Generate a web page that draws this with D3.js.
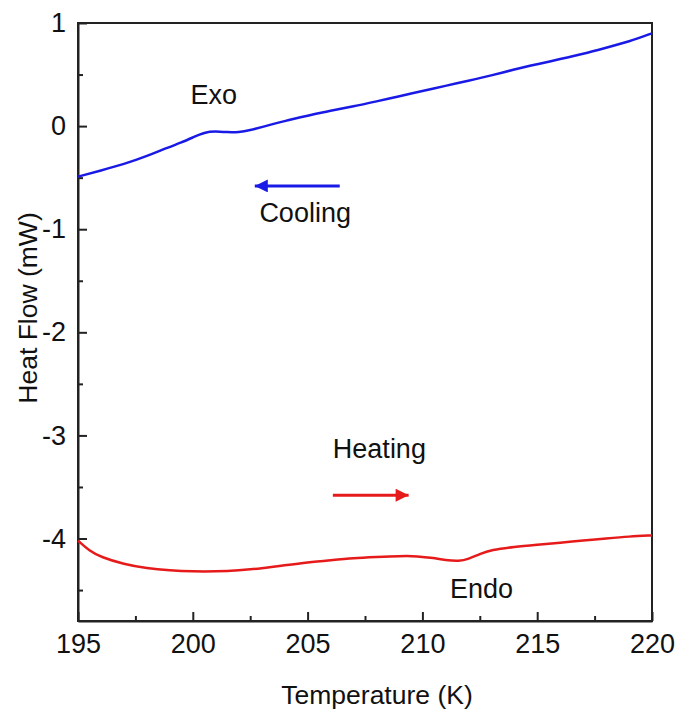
<!DOCTYPE html>
<html>
<head>
<meta charset="utf-8">
<script src="https://cdn.jsdelivr.net/npm/d3@7"></script>
<style>
  body { margin: 0; background: #fff; }
  text { font-family: "Liberation Sans", Arial, sans-serif; fill: #111; }
</style>
</head>
<body>
<div id="chart"></div>
<script>
// cooling run (blue)
const coolT = [195, 196, 197, 198, 199, 199.5, 200, 200.5, 201, 201.5, 202, 202.5, 203, 204, 205, 206, 207, 208, 209, 210, 211, 212, 213, 214, 215, 216, 217, 218, 219, 220];
const coolHF = [-0.49, -0.43, -0.37, -0.29, -0.20, -0.16, -0.11, -0.06, -0.05, -0.06, -0.06, -0.04, -0.01, 0.05, 0.10, 0.15, 0.19, 0.24, 0.29, 0.34, 0.39, 0.44, 0.49, 0.55, 0.60, 0.65, 0.70, 0.76, 0.82, 0.90];

// heating run (red)
const heatT = [195, 195.5, 196, 197, 198, 199, 200, 201, 202, 203, 204, 205, 206, 207, 208, 209, 209.8, 210.5, 211, 211.6, 212, 212.5, 213, 214, 215, 216, 217, 218, 219, 220];
const heatHF = [-4.02, -4.12, -4.18, -4.25, -4.29, -4.31, -4.32, -4.32, -4.31, -4.29, -4.26, -4.23, -4.21, -4.19, -4.18, -4.17, -4.17, -4.19, -4.21, -4.22, -4.20, -4.15, -4.11, -4.08, -4.06, -4.04, -4.02, -4.00, -3.98, -3.97];

const xTicks = [195, 200, 205, 210, 215, 220];
const yTicks = [-4, -3, -2, -1, 0, 1];

const width = 679, height = 713;
const margin = {top: 23, right: 27, bottom: 92, left: 78};

const svg = d3.select('#chart').append('svg')
    .attr('width', width)
    .attr('height', height);

const x = d3.scaleLinear().domain([195, 220]).range([margin.left, width - margin.right]);
const y = d3.scaleLinear().domain([-4.8, 1]).range([height - margin.bottom, margin.top]);

const fontSize = 27;
const titleSize = 26.5;

// minor ticks (inward)
const xMinor = d3.range(195, 220.01, 2.5).filter(v => !xTicks.includes(v));
const yMinor = d3.range(-4.5, 1, 1);

const axisColor = '#222';

const gx = svg.append('g')
    .attr('transform', `translate(0,${height - margin.bottom})`)
    .call(d3.axisBottom(x).tickValues(xTicks).tickSizeInner(-9).tickSizeOuter(0).tickPadding(13));
gx.selectAll('text').style('font-size', fontSize + 'px');

svg.append('g')
    .attr('transform', `translate(0,${height - margin.bottom})`)
    .call(d3.axisBottom(x).tickValues(xMinor).tickSize(-5).tickFormat(''))
    .call(g => g.select('.domain').remove());

const gy = svg.append('g')
    .attr('transform', `translate(${margin.left},0)`)
    .call(d3.axisLeft(y).tickValues(yTicks).tickSizeInner(-9).tickSizeOuter(0).tickPadding(12)
        .tickFormat(d => d < 0 ? '-' + Math.abs(d) : d));
gy.selectAll('text').style('font-size', fontSize + 'px');

svg.append('g')
    .attr('transform', `translate(${margin.left},0)`)
    .call(d3.axisLeft(y).tickValues(yMinor).tickSize(-5).tickFormat(''))
    .call(g => g.select('.domain').remove());

svg.selectAll('.domain, .tick line')
    .attr('stroke', axisColor)
    .attr('stroke-width', 2);

// frame top/right
svg.append('rect')
    .attr('x', x(195))
    .attr('y', y(1))
    .attr('width', x(220) - x(195))
    .attr('height', y(-4.8) - y(1))
    .attr('fill', 'none')
    .attr('stroke', axisColor)
    .attr('stroke-width', 2);

const line = d3.line()
    .x(d => x(d[0]))
    .y(d => y(d[1]))
    .curve(d3.curveBasis);

svg.append('path')
    .datum(d3.zip(coolT, coolHF))
    .attr('d', line)
    .attr('fill', 'none')
    .attr('stroke', '#1a1ae6')
    .attr('stroke-width', 2.5);

svg.append('path')
    .datum(d3.zip(heatT, heatHF))
    .attr('d', line)
    .attr('fill', 'none')
    .attr('stroke', '#e61a1a')
    .attr('stroke-width', 2.5);

// arrows
const defs = svg.append('defs');
function marker(id, color) {
    defs.append('marker')
        .attr('id', id)
        .attr('viewBox', '0 0 10 10')
        .attr('refX', 10)
        .attr('refY', 5)
        .attr('markerUnits', 'userSpaceOnUse')
        .attr('markerWidth', 22)
        .attr('markerHeight', 13)
        .attr('orient', 'auto')
        .append('path')
        .attr('d', 'M0,0 L10,5 L0,10 z')
        .attr('fill', color);
}
marker('arrBlue', '#1a1ae6');
marker('arrRed', '#e61a1a');

svg.append('line')
    .attr('x1', x(206.4)).attr('y1', y(-0.58))
    .attr('x2', x(202.7)).attr('y2', y(-0.58))
    .attr('stroke', '#1a1ae6')
    .attr('stroke-width', 3)
    .attr('marker-end', 'url(#arrBlue)');

svg.append('line')
    .attr('x1', x(206.1)).attr('y1', y(-3.58))
    .attr('x2', x(209.4)).attr('y2', y(-3.58))
    .attr('stroke', '#e61a1a')
    .attr('stroke-width', 3)
    .attr('marker-end', 'url(#arrRed)');

// annotations
const notes = [
    {t: 'Exo', x: 199.9, y: 0.21},
    {t: 'Cooling', x: 202.9, y: -0.93},
    {t: 'Heating', x: 206.1, y: -3.22},
    {t: 'Endo', x: 211.2, y: -4.58}
];
svg.selectAll('text.note')
    .data(notes)
    .enter()
    .append('text')
    .attr('class', 'note')
    .attr('x', d => x(d.x))
    .attr('y', d => y(d.y))
    .style('font-size', fontSize + 'px')
    .text(d => d.t);

// axis titles
svg.append('text')
    .attr('x', (x(195) + x(220)) / 2 + 12)
    .attr('y', 704)
    .attr('text-anchor', 'middle')
    .style('font-size', titleSize + 'px')
    .text('Temperature (K)');

svg.append('text')
    .attr('transform', `translate(37,${(y(1) + y(-4.8)) / 2 - 14}) rotate(-90)`)
    .attr('text-anchor', 'middle')
    .style('font-size', titleSize + 'px')
    .text('Heat Flow (mW)');
</script>
</body>
</html>
